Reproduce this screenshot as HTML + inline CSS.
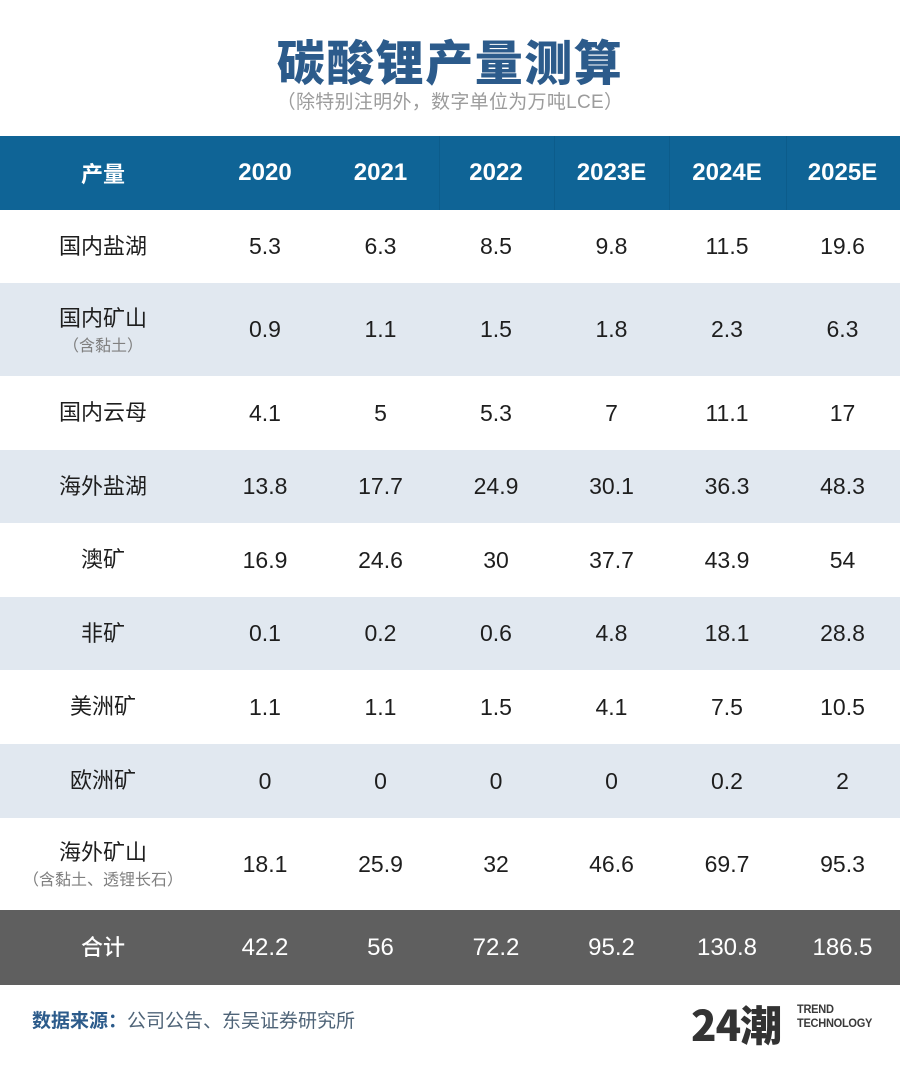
<!DOCTYPE html>
<html><head><meta charset="utf-8">
<style>
html,body{margin:0;padding:0;background:#fff;}
body{width:900px;height:1070px;position:relative;overflow:hidden;font-family:"Liberation Sans","Noto Sans CJK SC",sans-serif;}
.abs{position:absolute;}
.title{left:0;width:900px;top:29px;height:60px;line-height:60px;text-align:center;font-family:"Noto Sans CJK SC","WenQuanYi Zen Hei",sans-serif;font-weight:900;font-size:48px;letter-spacing:1.5px;color:#2c5b8b;}
.sub{left:0;width:900px;top:91px;height:24px;line-height:24px;text-align:center;font-family:"Liberation Sans","Noto Sans CJK SC",sans-serif;font-size:19px;color:#9c9c9c;letter-spacing:0.3px;}
.row{position:absolute;left:0;width:900px;}
.cell{position:absolute;top:0;height:100%;display:flex;align-items:center;justify-content:center;text-align:center;}
.hdr{background:#0f6496;color:#fff;font-weight:bold;font-size:24px;}
.hdr .lab{font-family:"Noto Sans CJK SC",sans-serif;font-weight:700;font-size:22px;}
.g{background:#e1e8f0;}
.w{background:#fff;}
.tot{background:#5f5f5f;color:#fff;}
.lab{font-family:"Liberation Sans","Noto Sans CJK SC",sans-serif;font-size:22px;color:#1e1e1e;line-height:26px;}
.tot .lab{color:#fff;font-weight:500;}
.num{font-size:23px;color:#1e1e1e;}
.tot .num{color:#fff;font-size:24px;}
.hdr .num{color:#fff;font-weight:bold;font-size:24px;}
.small{display:block;font-size:16px;color:#808080;line-height:22px;margin-top:4px;}
.sep{position:absolute;top:0;width:1px;height:100%;background:#0c5c8b;}
.foot1{left:32px;top:1005px;height:30px;line-height:30px;font-family:"Noto Sans CJK SC",sans-serif;font-size:19px;}
.foot1 b{color:#2c5b8b;font-weight:700;}
.foot1 span{color:#4f6478;}
</style></head><body>
<div class="abs title">碳酸锂产量测算</div>
<div class="abs sub">（除特别注明外，数字单位为万吨LCE）</div>

<!-- header -->
<div class="row hdr" style="top:136px;height:74px;">
  <div class="sep" style="left:439px"></div>
  <div class="sep" style="left:554px"></div>
  <div class="sep" style="left:669px"></div>
  <div class="sep" style="left:786px"></div>
  <div class="cell lab" style="left:23px;width:160px;color:#fff;">产量</div>
  <div class="cell num" style="left:207px;width:116px;">2020</div>
  <div class="cell num" style="left:323px;width:115px;">2021</div>
  <div class="cell num" style="left:438px;width:116px;">2022</div>
  <div class="cell num" style="left:554px;width:115px;">2023E</div>
  <div class="cell num" style="left:669px;width:116px;">2024E</div>
  <div class="cell num" style="left:785px;width:115px;">2025E</div>
</div>

<div class="row w" style="top:210px;height:73px;">
  <div class="cell lab" style="left:23px;width:160px;">国内盐湖</div>
  <div class="cell num" style="left:207px;width:116px;">5.3</div>
  <div class="cell num" style="left:323px;width:115px;">6.3</div>
  <div class="cell num" style="left:438px;width:116px;">8.5</div>
  <div class="cell num" style="left:554px;width:115px;">9.8</div>
  <div class="cell num" style="left:669px;width:116px;">11.5</div>
  <div class="cell num" style="left:785px;width:115px;">19.6</div>
</div>

<div class="row g" style="top:283px;height:93px;">
  <div class="cell lab" style="left:23px;width:160px;"><div style="margin-top:4px;">国内矿山<span class="small">（含黏土）</span></div></div>
  <div class="cell num" style="left:207px;width:116px;">0.9</div>
  <div class="cell num" style="left:323px;width:115px;">1.1</div>
  <div class="cell num" style="left:438px;width:116px;">1.5</div>
  <div class="cell num" style="left:554px;width:115px;">1.8</div>
  <div class="cell num" style="left:669px;width:116px;">2.3</div>
  <div class="cell num" style="left:785px;width:115px;">6.3</div>
</div>

<div class="row w" style="top:376px;height:74px;">
  <div class="cell lab" style="left:23px;width:160px;">国内云母</div>
  <div class="cell num" style="left:207px;width:116px;">4.1</div>
  <div class="cell num" style="left:323px;width:115px;">5</div>
  <div class="cell num" style="left:438px;width:116px;">5.3</div>
  <div class="cell num" style="left:554px;width:115px;">7</div>
  <div class="cell num" style="left:669px;width:116px;">11.1</div>
  <div class="cell num" style="left:785px;width:115px;">17</div>
</div>

<div class="row g" style="top:450px;height:73px;">
  <div class="cell lab" style="left:23px;width:160px;">海外盐湖</div>
  <div class="cell num" style="left:207px;width:116px;">13.8</div>
  <div class="cell num" style="left:323px;width:115px;">17.7</div>
  <div class="cell num" style="left:438px;width:116px;">24.9</div>
  <div class="cell num" style="left:554px;width:115px;">30.1</div>
  <div class="cell num" style="left:669px;width:116px;">36.3</div>
  <div class="cell num" style="left:785px;width:115px;">48.3</div>
</div>

<div class="row w" style="top:523px;height:74px;">
  <div class="cell lab" style="left:23px;width:160px;">澳矿</div>
  <div class="cell num" style="left:207px;width:116px;">16.9</div>
  <div class="cell num" style="left:323px;width:115px;">24.6</div>
  <div class="cell num" style="left:438px;width:116px;">30</div>
  <div class="cell num" style="left:554px;width:115px;">37.7</div>
  <div class="cell num" style="left:669px;width:116px;">43.9</div>
  <div class="cell num" style="left:785px;width:115px;">54</div>
</div>

<div class="row g" style="top:597px;height:73px;">
  <div class="cell lab" style="left:23px;width:160px;">非矿</div>
  <div class="cell num" style="left:207px;width:116px;">0.1</div>
  <div class="cell num" style="left:323px;width:115px;">0.2</div>
  <div class="cell num" style="left:438px;width:116px;">0.6</div>
  <div class="cell num" style="left:554px;width:115px;">4.8</div>
  <div class="cell num" style="left:669px;width:116px;">18.1</div>
  <div class="cell num" style="left:785px;width:115px;">28.8</div>
</div>

<div class="row w" style="top:670px;height:74px;">
  <div class="cell lab" style="left:23px;width:160px;">美洲矿</div>
  <div class="cell num" style="left:207px;width:116px;">1.1</div>
  <div class="cell num" style="left:323px;width:115px;">1.1</div>
  <div class="cell num" style="left:438px;width:116px;">1.5</div>
  <div class="cell num" style="left:554px;width:115px;">4.1</div>
  <div class="cell num" style="left:669px;width:116px;">7.5</div>
  <div class="cell num" style="left:785px;width:115px;">10.5</div>
</div>

<div class="row g" style="top:744px;height:74px;">
  <div class="cell lab" style="left:23px;width:160px;">欧洲矿</div>
  <div class="cell num" style="left:207px;width:116px;">0</div>
  <div class="cell num" style="left:323px;width:115px;">0</div>
  <div class="cell num" style="left:438px;width:116px;">0</div>
  <div class="cell num" style="left:554px;width:115px;">0</div>
  <div class="cell num" style="left:669px;width:116px;">0.2</div>
  <div class="cell num" style="left:785px;width:115px;">2</div>
</div>

<div class="row w" style="top:818px;height:92px;">
  <div class="cell lab" style="left:3px;width:200px;"><div style="margin-top:4px;">海外矿山<span class="small">（含黏土、透锂长石）</span></div></div>
  <div class="cell num" style="left:207px;width:116px;">18.1</div>
  <div class="cell num" style="left:323px;width:115px;">25.9</div>
  <div class="cell num" style="left:438px;width:116px;">32</div>
  <div class="cell num" style="left:554px;width:115px;">46.6</div>
  <div class="cell num" style="left:669px;width:116px;">69.7</div>
  <div class="cell num" style="left:785px;width:115px;">95.3</div>
</div>

<div class="row tot" style="top:910px;height:75px;">
  <div class="cell lab" style="left:23px;width:160px;">合计</div>
  <div class="cell num" style="left:207px;width:116px;">42.2</div>
  <div class="cell num" style="left:323px;width:115px;">56</div>
  <div class="cell num" style="left:438px;width:116px;">72.2</div>
  <div class="cell num" style="left:554px;width:115px;">95.2</div>
  <div class="cell num" style="left:669px;width:116px;">130.8</div>
  <div class="cell num" style="left:785px;width:115px;">186.5</div>
</div>

<div class="abs foot1"><b>数据来源：</b><span>公司公告、东吴证券研究所</span></div>

<div class="abs" style="left:691px;top:1002px;height:44px;line-height:44px;font-family:'Noto Sans CJK SC',sans-serif;font-weight:900;font-size:42px;color:#333;letter-spacing:-1px;">24潮</div>
<div class="abs" style="left:797px;top:1002px;font-family:'Liberation Sans',sans-serif;font-weight:bold;font-size:12px;line-height:14px;color:#3a3a3a;letter-spacing:-0.3px;transform:scaleX(0.92);transform-origin:0 0;">TREND<br>TECHNOLOGY</div>
</body></html>
